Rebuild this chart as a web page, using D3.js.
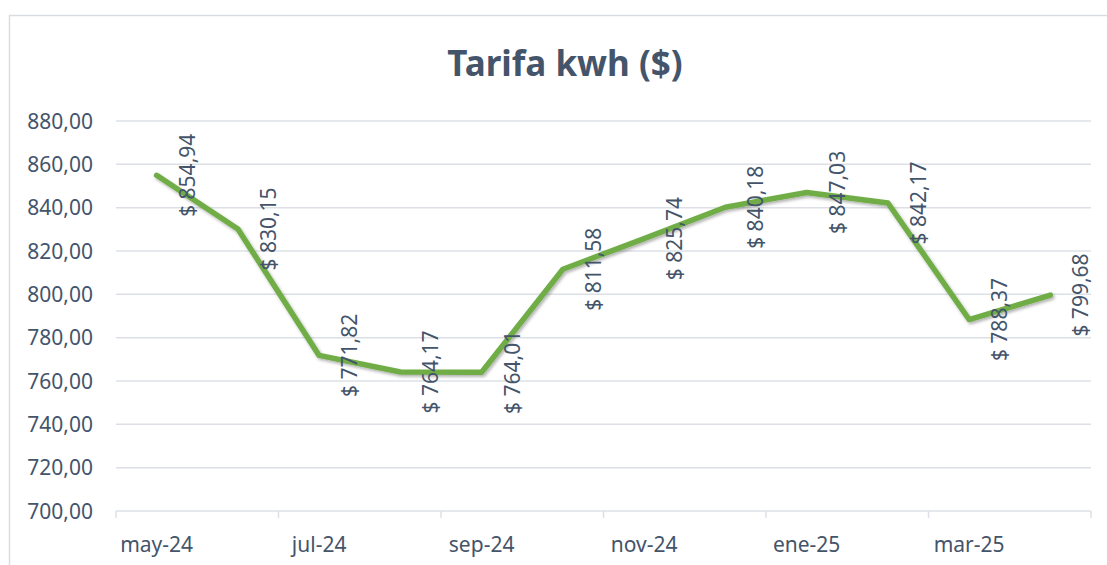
<!DOCTYPE html>
<html>
<head>
<meta charset="utf-8">
<script src="https://cdn.jsdelivr.net/npm/d3@7"></script>
<style>
  body { margin: 0; background: #ffffff; }
  svg { display: block; }
</style>
</head>
<body>
<svg id="chart" width="1107" height="565"></svg>
<script>
// chart data
let months = ["may-24", "jun-24", "jul-24", "ago-24", "sep-24", "oct-24",
              "nov-24", "dic-24", "ene-25", "feb-25", "mar-25", "abr-25"];
let tarifa = [854.94, 830.15, 771.82, 764.17, 764.01, 811.58,
              825.74, 840.18, 847.03, 842.17, 788.37, 799.68];
let yTicks = [700, 720, 740, 760, 780, 800, 820, 840, 860, 880];
let chartTitle = "Tarifa kwh ($)";

let chart = d3.select("#chart");
let textColor = "#44546A";
let gridColor = "#DCE0E6";
let font = "'Noto Sans', sans-serif";

// number format with comma decimals
let fmt = d3.formatLocale({ decimal: ",", thousands: ".", grouping: [3], currency: ["$ ", ""] });
let tickFmt = fmt.format(".2f");
let labelFmt = fmt.format("$.2f");

// outer chart border
chart.append("rect")
    .attr("x", 9.5)
    .attr("y", 15.5)
    .attr("width", 1120)
    .attr("height", 570)
    .attr("fill", "#ffffff")
    .attr("stroke", "#D9DDE3")
    .attr("stroke-width", 1.5);

// drop shadow for the line
let defs = chart.append("defs");
defs.append("filter")
    .attr("id", "shadow")
    .attr("x", "-10%").attr("y", "-10%")
    .attr("width", "120%").attr("height", "130%")
    .append("feDropShadow")
    .attr("dx", 1.5)
    .attr("dy", 2)
    .attr("stdDeviation", 1.5)
    .attr("flood-color", "#000000")
    .attr("flood-opacity", 0.3);

// scales
let x = d3.scaleBand()
    .domain(months)
    .range([116, 1091])
    .padding(0);

let y = d3.scaleLinear()
    .domain([700, 880])
    .range([511, 121]);

// horizontal gridlines
chart.append("g")
    .selectAll("line")
    .data(yTicks)
    .enter()
    .append("line")
    .attr("x1", 116)
    .attr("x2", 1091)
    .attr("y1", function(d) { return y(d); })
    .attr("y2", function(d) { return y(d); })
    .attr("stroke", gridColor)
    .attr("stroke-width", 1.5);

// y axis labels
chart.append("g")
    .selectAll("text")
    .data(yTicks)
    .enter()
    .append("text")
    .attr("x", 93)
    .attr("y", function(d) { return y(d); })
    .attr("dy", "0.36em")
    .attr("text-anchor", "end")
    .style("font-family", font)
    .style("font-size", "21px")
    .style("fill", textColor)
    .text(function(d) { return tickFmt(d); });

// x axis tick marks every two months
let tickIdx = d3.range(0, months.length + 1, 2);
chart.append("g")
    .selectAll("line")
    .data(tickIdx)
    .enter()
    .append("line")
    .attr("x1", function(i) { return 116 + i * x.bandwidth(); })
    .attr("x2", function(i) { return 116 + i * x.bandwidth(); })
    .attr("y1", 511)
    .attr("y2", 518)
    .attr("stroke", gridColor)
    .attr("stroke-width", 1.5);

// x axis labels every two months
chart.append("g")
    .selectAll("text")
    .data(months.filter(function(d, i) { return i % 2 === 0; }))
    .enter()
    .append("text")
    .attr("x", function(d) { return x(d) + x.bandwidth() / 2; })
    .attr("y", 552)
    .attr("text-anchor", "middle")
    .style("font-family", font)
    .style("font-size", "21px")
    .style("fill", textColor)
    .text(function(d) { return d; });

// title
chart.append("text")
    .attr("x", 565)
    .attr("y", 76)
    .attr("text-anchor", "middle")
    .style("font-family", font)
    .style("font-size", "35px")
    .style("font-weight", "bold")
    .style("fill", textColor)
    .text(chartTitle);

// the line
let line = d3.line()
    .x(function(d, i) { return x(months[i]) + x.bandwidth() / 2; })
    .y(function(d) { return y(d); });

chart.append("path")
    .datum(tarifa)
    .attr("d", line)
    .attr("fill", "none")
    .attr("stroke", "#70AD47")
    .attr("stroke-width", 5.5)
    .attr("stroke-linejoin", "round")
    .attr("stroke-linecap", "round")
    .attr("filter", "url(#shadow)");

// rotated data labels
chart.append("g")
    .selectAll("text")
    .data(tarifa)
    .enter()
    .append("text")
    .attr("transform", function(d, i) {
        let px = x(months[i]) + x.bandwidth() / 2 + 38;
        return "translate(" + px + "," + y(d) + ") rotate(-90)";
    })
    .attr("text-anchor", "middle")
    .style("font-family", font)
    .style("font-size", "21px")
    .style("fill", textColor)
    .text(function(d) { return labelFmt(d); });
</script>
</body>
</html>
